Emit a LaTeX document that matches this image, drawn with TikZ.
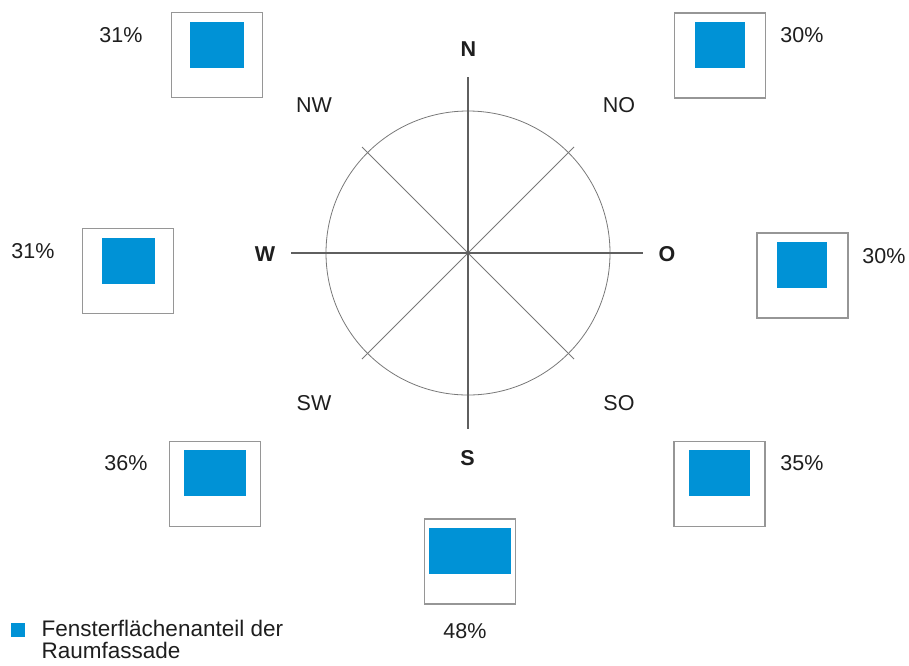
\documentclass[tikz,border=0pt]{standalone}
\usepackage{fontspec}
\setmainfont{Liberation Sans}
\definecolor{paneblue}{RGB}{0,146,214}
\definecolor{framegray}{RGB}{150,150,150}
\definecolor{axisgray}{RGB}{95,95,95}
\definecolor{ringgray}{RGB}{120,120,120}
\definecolor{ink}{RGB}{30,30,30}
\begin{document}
\begin{tikzpicture}[x=1pt,y=-1pt,
  frame/.style={draw=framegray,line width=1.3pt,fill=white,inner sep=0pt,minimum width=91pt,minimum height=85pt},
  pane/.style={fill=paneblue,inner sep=0pt},
  lbl/.style={text=ink,font=\fontsize{21.5}{24}\selectfont,anchor=base,inner sep=0pt},
  keytext/.style={lbl,anchor=base west,font=\fontsize{22.5}{24}\selectfont},
  dir/.style={lbl},
  cardinal/.style={lbl,font=\fontsize{21.5}{24}\selectfont\bfseries},
  axis/.style={draw=axisgray,line width=1.1pt},
  diag/.style={draw=ringgray,line width=0.8pt}]
\useasboundingbox (0,0) rectangle (909,665);

% compass rose
\coordinate (c) at (468,253);
\coordinate (axN) at (468,77);
\coordinate (axS) at (468,429);
\coordinate (axW) at (291,253);
\coordinate (axE) at (643,253);
\coordinate (dNW) at (362,147);
\coordinate (dNE) at (574,147);
\coordinate (dSW) at (362,359);
\coordinate (dSE) at (574,359);
\node[draw=ringgray,line width=0.8pt,circle,minimum size=284pt,inner sep=0pt] (ring) at (c) {};
\draw[diag] (dNW) -- (dSE);
\draw[diag] (dNE) -- (dSW);
\draw[axis] (axN) -- (axS);
\draw[axis] (axW) -- (axE);

% direction labels
\node[cardinal] (lN) at (468.5,56.7) {N};
\node[cardinal] (lS) at (467.5,465) {S};
\node[cardinal] (lW) at (265,261) {W};
\node[cardinal] (lO) at (667,261) {O};
\node[dir] (lNW) at (314,112.7) {NW};
\node[dir] (lNO) at (619,112.7) {NO};
\node[dir] (lSW) at (314,410.5) {SW};
\node[dir] (lSO) at (619,410.5) {SO};

% facade frames with window panes
\node[frame] (fNW) at (216.8,55.3) {};
\node[pane,minimum width=54pt,minimum height=46pt] (pNW) at (217,45) {};
\node[frame] (fNO) at (719.8,55.5) {};
\node[pane,minimum width=50pt,minimum height=46pt] (pNO) at (720,45) {};
\node[frame] (fW) at (128,271.2) {};
\node[pane,minimum width=53.5pt,minimum height=46pt] (pW) at (128.4,260.7) {};
\node[frame] (fO) at (802.5,275.4) {};
\node[pane,minimum width=50pt,minimum height=46pt] (pO) at (802,265) {};
\node[frame] (fSW) at (214.8,484) {};
\node[pane,minimum width=62pt,minimum height=46pt] (pSW) at (215,473) {};
\node[frame] (fSO) at (719.5,484) {};
\node[pane,minimum width=61pt,minimum height=46pt] (pSO) at (719.5,473) {};
\node[frame] (fS) at (469.8,561.5) {};
\node[pane,minimum width=82pt,minimum height=46pt] (pS) at (470,551) {};

% shares
\node[lbl] (tNW) at (121,42.3) {31\%};
\node[lbl] (tNO) at (802,42.3) {30\%};
\node[lbl] (tW) at (33,258.5) {31\%};
\node[lbl] (tO) at (884,263) {30\%};
\node[lbl] (tSW) at (126,470.8) {36\%};
\node[lbl] (tSO) at (802,470.8) {35\%};
\node[lbl] (tS) at (465,638.5) {48\%};

% legend
\node[pane,minimum width=14pt,minimum height=14pt] (key) at (18.3,630) {};
\node[keytext] (keyA) at (41.5,636.7) {Fensterflächenanteil der};
\node[keytext] (keyB) at (41.5,658.5) {Raumfassade};
\end{tikzpicture}
\end{document}
